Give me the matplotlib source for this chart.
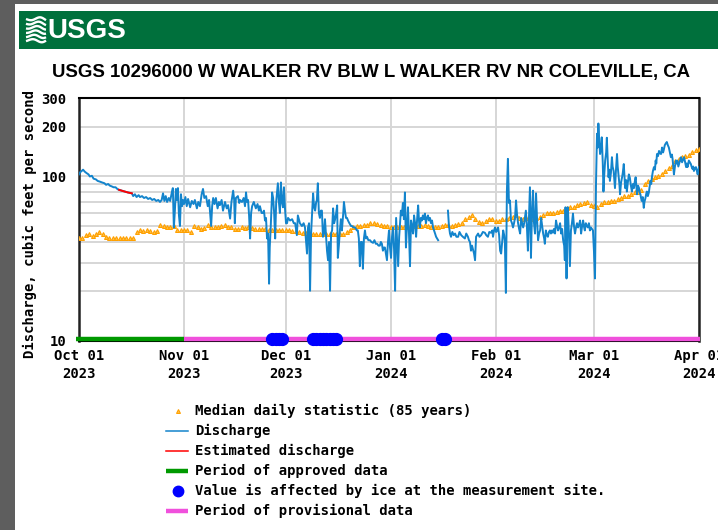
import numpy as np
import matplotlib
matplotlib.use('Agg')
import matplotlib.pyplot as plt
from matplotlib.patches import Rectangle
from matplotlib.ticker import FixedLocator, NullFormatter

# ---------------- data (days since 2023-10-01, cfs) ----------------
month_ticks = [0, 31, 61, 92, 123, 152, 183]
month_labels = ["Oct 01\n2023", "Nov 01\n2023", "Dec 01\n2023", "Jan 01\n2024",
                "Feb 01\n2024", "Mar 01\n2024", "Apr 01\n2024"]
y_ticks = [10, 100, 200, 300]
y_grid_minor = [20, 30, 40, 50, 60, 70, 80, 90]

median_vals = [
    # Oct
    42.5, 42.5, 44, 45, 43.7, 45, 46, 45, 43, 42.5, 42, 42.5, 42.5, 42, 42.5, 42.5,
    42, 46, 47, 46.5, 47, 46.5, 46, 46.5, 51, 50, 49, 49.5, 50, 47, 47.5,
    # Nov
    47.5, 47, 46, 50, 49, 48, 48.5, 51, 49.5, 49, 49, 50, 50.5, 49, 49.5, 48, 48, 49,
    48.5, 49, 48.5, 48, 48, 48, 48, 47.5, 47, 47, 47, 47,
    # Dec
    47, 47, 46.5, 46.5, 46, 45.5, 45.5, 45, 45, 45, 44.5, 44.5, 44.5, 44.5, 45, 44.5,
    45, 45, 46, 47.5, 49, 50, 50, 50.5, 51, 52, 52.5, 51.5, 51, 50, 50,
    # Jan
    49, 49, 49, 49, 49.5, 49.5, 49.5, 50, 50, 50, 50.5, 50, 49.5, 49.5, 49.5, 50, 50.5,
    50.5, 50, 51, 51.5, 52.5, 55, 57, 58, 55, 53, 52, 54, 55, 55,
    # Feb
    54, 54, 55, 55.5, 56, 57, 58, 56, 55.5, 56, 56, 55.5, 56, 57, 58.5, 60, 60, 60, 61,
    61.5, 62, 64, 65, 65, 67, 68, 69, 70, 67,
    # Mar + Apr 1
    66, 65, 68, 70, 70, 70.5, 71, 72.5, 74, 76, 76, 78, 80, 81, 83, 90, 94, 96, 99, 101,
    103, 108, 112, 116, 125, 128, 131, 134, 136, 140, 144, 147,
]
median_days = list(range(len(median_vals)))

q_days = [
    0, 0.3, 0.8, 1.2, 1.7, 2.2, 2.8, 3.2, 3.8, 4.3, 5.0, 5.5, 6.2, 6.8, 7.5, 8.0, 8.6, 9.1,
    9.7, 10.2, 10.8, 11.3, 11.8, 12.6, 13.5, 14.4, 15.6,
    15.6, 16.0, 16.5, 17.0, 17.6, 18.0, 18.6, 19.2, 19.8, 20.4, 21.0, 21.6, 22.2, 22.8, 23.4,
    23.9, 24.4, 24.8, 25.2, 25.6, 26.0, 26.5, 26.9, 27.4, 27.7, 28.0, 28.3, 28.6, 28.9, 29.2,
    29.5, 29.8, 30.1, 30.4, 30.7, 31.0, 31.4, 31.8, 32.2, 32.8, 33.3, 33.8, 34.2, 34.8, 35.2,
    35.7, 36.2, 36.6, 37.0, 37.5, 38.0, 38.4, 39.0, 39.3, 39.6, 40.0, 40.4, 40.9, 41.3, 41.6,
    42.1, 42.5, 43.1, 43.6, 44.0, 44.6, 45.0, 45.5, 45.8, 46.0, 46.3, 46.9, 47.3, 47.5, 48.1,
    48.6, 49.0, 49.3, 49.6, 49.9, 50.2, 50.5, 50.8, 51.1, 51.6, 52.2, 52.7, 53.1, 53.4, 53.9,
    54.3, 54.6, 54.9, 55.2, 55.5, 55.8, 56.1, 56.3, 56.6, 57.0, 57.3, 57.6, 57.9, 58.2, 58.7,
    59.0, 59.3, 59.6, 59.9, 60.2, 60.5, 60.8, 61.1, 61.4, 61.7, 62.3, 62.9, 63.4, 63.8, 64.3,
    64.6, 65.2, 65.8, 66.3, 66.7, 67.3, 67.6, 67.9, 68.2, 68.5, 68.8, 69.1, 69.4, 69.7, 70.0,
    70.2, 70.5, 70.8, 71.1, 71.4, 71.7, 72.0, 72.3, 72.6, 73.2, 73.5, 73.8, 74.1, 74.4, 74.7,
    75.0, 75.3, 75.6, 75.9, 76.2, 76.4, 76.7, 77.0, 77.3, 77.6, 78.0, 78.2, 78.5, 78.8, 79.1,
    79.4, 79.8, 80.3, 80.6, 81.0, 81.5, 82.0, 82.3, 82.6, 82.9, 83.2, 83.5, 83.8, 84.1, 84.4,
    84.7, 85.0, 85.4, 85.9, 86.3, 86.8, 87.2, 87.6, 88.0, 88.4, 88.8, 89.1, 89.4, 89.7, 90.0,
    90.3, 90.6, 90.9, 91.2, 91.5, 91.8, 92.1, 92.4, 92.7, 93.0, 93.3, 93.6, 93.9, 94.2, 94.5,
    95.0, 95.3, 95.6, 95.9, 96.2, 96.5, 96.8, 97.1, 97.4, 97.7, 98.0, 98.3, 98.6, 98.9, 99.2,
    99.5, 99.8, 100.1, 100.4, 100.6, 100.9, 101.2, 101.5, 101.8, 102.1, 102.4, 102.7, 103.0,
    103.3, 103.6, 103.9, 104.2, 104.5, 104.8, 105.1, 105.4, 105.7, 106.0, 107.5,
    108.9, 109.2, 109.5, 109.8, 110.2, 110.6, 111.0, 111.4, 111.9, 112.3, 112.8, 113.3, 113.9,
    114.3, 114.8, 115.1, 115.4, 115.7, 116.0, 116.3, 116.6, 116.9, 117.2, 117.5, 117.8, 118.2,
    118.7, 119.2, 119.8, 120.2, 120.7, 121.1, 121.6, 122.0, 122.2, 122.5, 122.8, 123.1, 123.4,
    123.7, 124.0, 124.3, 124.6, 124.9, 125.2, 125.5, 125.7, 126.0, 126.3, 126.6, 126.9, 127.2,
    127.5, 127.8, 128.1, 128.4, 128.7, 129.0, 129.3, 129.6, 129.9, 130.2, 130.5, 130.8, 131.1,
    131.4, 131.6, 131.9, 132.2, 132.5, 132.8, 133.1, 133.4, 133.7, 134.0, 134.3, 134.6, 134.9,
    135.2, 135.5, 135.8, 136.1, 136.4, 136.7, 137.0, 137.3, 137.5, 137.8, 138.1, 138.4, 138.7,
    139.0, 139.3, 139.6, 139.9, 140.2, 140.5, 140.8, 141.1, 141.4, 141.7, 142.0, 142.3, 142.6,
    142.9, 143.2, 143.4, 143.6, 143.9, 144.1, 144.3, 144.6, 144.9, 145.2, 145.5, 145.8, 146.1,
    146.4, 146.7, 147.0, 147.3, 147.6, 147.9, 148.2, 148.5, 148.8, 149.1, 149.3, 149.6, 149.9,
    150.2, 150.5, 150.8, 151.1, 151.4, 151.7, 152.0, 152.3, 152.6, 152.9, 153.1, 153.3, 153.6,
    153.8, 154.1, 154.3, 154.6, 154.8, 155.0, 155.3, 155.6, 155.8, 156.1, 156.3, 156.5, 156.7,
    157.0, 157.3, 157.5, 157.8, 158.0, 158.2, 158.5, 158.8, 159.0, 159.3, 159.5, 159.7, 160.0,
    160.3, 160.5, 160.8, 161.0, 161.2, 161.5, 161.7, 162.0, 162.3, 162.6, 162.9, 163.2, 163.5,
    163.8, 164.0, 164.3, 164.5, 164.7, 165.0, 165.3, 165.5, 165.7, 165.9, 166.1, 166.4, 166.7,
    166.9, 167.2, 167.4, 167.6, 167.9, 168.2, 168.4, 168.7, 168.9, 169.1, 169.4, 169.7, 170.0,
    170.2, 170.4, 170.6, 170.9, 171.2, 171.5, 171.8, 172.1, 172.4, 172.6, 172.9, 173.2, 173.5,
    173.8, 174.1, 174.4, 174.7, 175.0, 175.2, 175.4, 175.6, 175.9, 176.2, 176.4, 176.6, 176.9,
    177.1, 177.4, 177.7, 178.0, 178.2, 178.4, 178.6, 178.9, 179.2, 179.4, 179.6, 179.8, 180.0,
    180.3, 180.6, 180.8, 181.1, 181.3, 181.5, 181.8, 182.1, 182.3, 182.6, 182.8, 183.0,
]
q_vals = [
    103, 106, 108, 110, 107, 105, 103, 100, 101, 97, 96, 94, 93, 92, 91, 89, 90, 88,
    87, 86, 86, 84, 83, 82, 81, 80, 79,
    79, 76, 78, 75, 77, 75, 76, 74, 75, 73, 74, 72, 73, 71, 72,
    70, 72, 79, 71, 76, 70, 74, 71, 80, 85, 49, 62, 84, 72, 85,
    58, 50, 78, 66, 72, 68, 75, 66, 73, 65, 71, 68, 72, 64, 70,
    66, 78, 84, 74, 76, 66, 72, 50, 66, 74, 68, 74, 64, 70, 67,
    72, 62, 70, 64, 67, 55.5, 70, 82, 72, 52, 74, 76, 69, 72, 70,
    74, 66, 80, 70, 72, 58, 42, 60, 66, 70, 64, 68, 62, 66, 60,
    60, 62, 54, 56, 42, 45, 22.3, 37, 50, 80, 74, 60, 42, 70, 91,
    70, 60, 92, 70, 65, 86, 64, 52, 52, 56, 54, 55, 52, 52, 44,
    58, 52, 50, 52, 49, 34, 49, 52, 20.2, 45, 60.5, 79, 65, 62, 70,
    71.5, 91, 60, 56, 62, 62, 43, 45, 55, 35.4, 31, 40, 20.2, 45, 47,
    64, 52, 55, 60, 66.7, 32, 38, 47, 55, 47, 60, 70, 62, 56, 56,
    54, 52, 50, 50, 49, 49, 47, 47, 42, 28.5, 40, 40, 27.5, 42, 47,
    42, 43, 41, 41, 40, 39.5, 41, 39, 39, 38, 38, 40, 39, 35.4, 37,
    37, 34, 31, 40, 47, 37, 32, 43, 49, 36, 20.2, 56, 40, 28.5, 43,
    62, 58, 69, 55, 80, 37, 50, 65, 45, 28.5, 54, 50, 45, 58, 52,
    43, 55, 66.7, 52, 49, 56, 54, 58, 55, 59.5, 52, 56, 58,
    54, 56, 52, 54, 49, 47, 45, 43, 42, 41, np.nan,
    62, 50, 45, 43, 46, 44, 45, 43, 43, 46, 44, 43, 42,
    45, 43, 41, 40, 35.4, 38, 36, 34, 31, 43, 44, 45, 43,
    44, 46, 45.5, 44, 43, 46, 45.5, 47, 43, 47, 49, 46, 47,
    49, 44, 35.4, 34, 40, 47, 44, 40, 19.6, 82, 128, 69, 71.5,
    54, 52, 49, 52, 56, 71.5, 58, 52, 48, 45, 56, 52, 49,
    52, 56, 62, 50, 35.4, 55, 86, 32, 60, 82, 52, 45, 79,
    55, 41, 45, 47, 56, 50, 45, 42, 39, 47, 44, 43, 46,
    47, 45, 47, 45.5, 48, 45, 54, 50, 47, 49, 52, 45, 48,
    41, 38, 31, 65, 24, 50, 65, 45, 28.5, 47, 52, 59.5, 50,
    45, 49, 52, 49, 51, 54, 45, 50, 54, 49, 47, 52, 50,
    49, 52, 47, 49, 48, 47, 35, 24, 91, 182, 150, 210, 159,
    137, 150, 173, 120, 81, 100, 125, 140, 172, 120, 99, 110, 94,
    105, 131, 115, 108, 95, 85, 110, 137, 115, 99, 90, 78, 92,
    99, 105, 119, 100, 85, 95, 81, 92, 103, 98, 88, 81, 90,
    85, 92, 99, 88, 78, 88, 85, 80, 78, 74, 71, 75, 64.5,
    70, 74, 78, 81, 76, 80, 86, 94, 90, 99, 108, 114, 110,
    125, 120, 137, 133, 143, 138, 137, 150, 140, 145, 155, 159, 162,
    155, 150, 140, 131, 136, 128, 115, 103, 115, 125, 120, 125, 115,
    119, 125, 131, 122, 125, 128, 131, 122, 114, 120, 114, 118, 125,
    122, 119, 115, 111, 115, 108, 112, 114, 110, 103, 108, 114,
]
est_days = [11.8, 12.6, 13.5, 14.4, 15.6]
est_vals = [83, 82, 81, 80, 79]

ice_days = [57, 58, 59, 60, 69, 70, 71, 72, 73, 74, 75, 76, 107, 108]
approved_period = [0, 31]
provisional_period = [31, 183]

# ---------------- figure ----------------
W, H = 718, 530
fig = plt.figure(figsize=(W / 100, H / 100), dpi=100)
fig.patch.set_facecolor('white')

ov = fig.add_axes([0, 0, 1, 1], zorder=0)
ov.set_xlim(0, W)
ov.set_ylim(H, 0)
ov.axis('off')
ov.add_patch(Rectangle((0, 0), 15, H, color='#5e5e5e', lw=0))
ov.add_patch(Rectangle((0, 0), W, 4, color='#5e5e5e', lw=0))
ov.add_patch(Rectangle((19, 11), W - 19, 38, color='#00703c', lw=0))

sans_narrow = ['Liberation Sans Narrow', 'Liberation Sans', 'DejaVu Sans']

# USGS logo: wave icon + wordmark
tt = np.linspace(0, 1, 30)
for k in range(6):
    yy = 19 + k * 4.3 + 2.0 * np.sin(tt * 2 * np.pi * 1.1 + k * 0.5) * (0.5 + tt * 0.5)
    ov.plot(26 + tt * 20, yy, color='white', lw=1.7, solid_capstyle='butt')
ov.text(47, 31, "USGS", color='white', fontsize=20, fontweight='bold',
        family=sans_narrow, va='center', ha='left')

ov.text(371, 72, "USGS 10296000 W WALKER RV BLW L WALKER RV NR COLEVILLE, CA",
        fontsize=13.4, fontweight='bold', family=sans_narrow,
        ha='center', va='center', color='black')

mono = ['DejaVu Sans Mono']
ov.text(30, 224, "Discharge, cubic feet per second", rotation=90, fontsize=10,
        fontweight='bold', family=mono, ha='center', va='center')

# main axes
ax = fig.add_axes([79 / W, 1 - 341 / H, (699 - 79) / W, (341 - 98) / H], zorder=2)
ax.set_yscale('log')
ax.set_ylim(10, 300)
ax.set_xlim(0, 183)
ax.set_yticks(y_ticks)
ax.set_yticklabels([str(v) for v in y_ticks])
ax.yaxis.set_minor_locator(FixedLocator(y_grid_minor))
ax.yaxis.set_minor_formatter(NullFormatter())
ax.set_xticks(month_ticks)
ax.set_xticklabels(month_labels, linespacing=1.35)
ax.grid(True, which='both', color='#d6d6d6', lw=1.4)
ax.set_axisbelow(True)
ax.tick_params(which='both', length=0)
ax.tick_params(axis='y', pad=9)
ax.tick_params(axis='x', pad=6)
for lab in ax.get_xticklabels() + ax.get_yticklabels():
    lab.set_fontfamily(mono)
    lab.set_fontweight('bold')
    lab.set_fontsize(10)
for s in ['top', 'bottom']:
    ax.spines[s].set_linewidth(1.5)
for s in ['left', 'right']:
    ax.spines[s].set_linewidth(1.8)
    ax.spines[s].set_color('#222222')

ax.plot(median_days, median_vals, linestyle='none', marker='^', ms=2.8,
        mfc='#ffc24a', mec='#ffa000', mew=0.8, zorder=3)
ax.plot(q_days, q_vals, color='#1384cc', lw=1.4, zorder=4)
ax.plot(est_days, est_vals, color='#ff0000', lw=1.4, zorder=4)

bar_y = 10.3
ax.plot([approved_period[0] - 0.9, approved_period[1]], [bar_y, bar_y], color='#009900',
        lw=3.2, solid_capstyle='butt', clip_on=False, zorder=5)
ax.plot([provisional_period[0], provisional_period[1] + 0.3], [bar_y, bar_y], color='#f050dc',
        lw=3.2, solid_capstyle='butt', clip_on=False, zorder=5)
ax.plot(ice_days, [bar_y] * len(ice_days), linestyle='none', marker='o', ms=8.5,
        color='#0000ff', clip_on=False, zorder=6)

# legend (manual)
lx0, lx1, tx = 166, 188, 195
rows = [411, 431, 451, 471, 491, 511]
texts = ["Median daily statistic (85 years)", "Discharge", "Estimated discharge",
         "Period of approved data", "Value is affected by ice at the measurement site.",
         "Period of provisional data"]
ov.plot([178], [rows[0]], linestyle='none', marker='^', ms=2.8, mfc='#ffc24a',
        mec='#ffa000', mew=0.8)
ov.plot([lx0, lx1], [rows[1]] * 2, color='#1384cc', lw=1.1)
ov.plot([lx0, lx1], [rows[2]] * 2, color='#ff0000', lw=1.1)
ov.plot([lx0, lx1], [rows[3]] * 2, color='#009900', lw=3.2, solid_capstyle='butt')
ov.plot([178], [rows[4]], linestyle='none', marker='o', ms=7.5, color='#0000ff')
ov.plot([lx0, lx1], [rows[5]] * 2, color='#f050dc', lw=3.2, solid_capstyle='butt')
for r, t in zip(rows, texts):
    ov.text(tx, r, t, fontsize=10, fontweight='bold', family=mono, va='center', ha='left')

fig.savefig('out.png', dpi=100)
